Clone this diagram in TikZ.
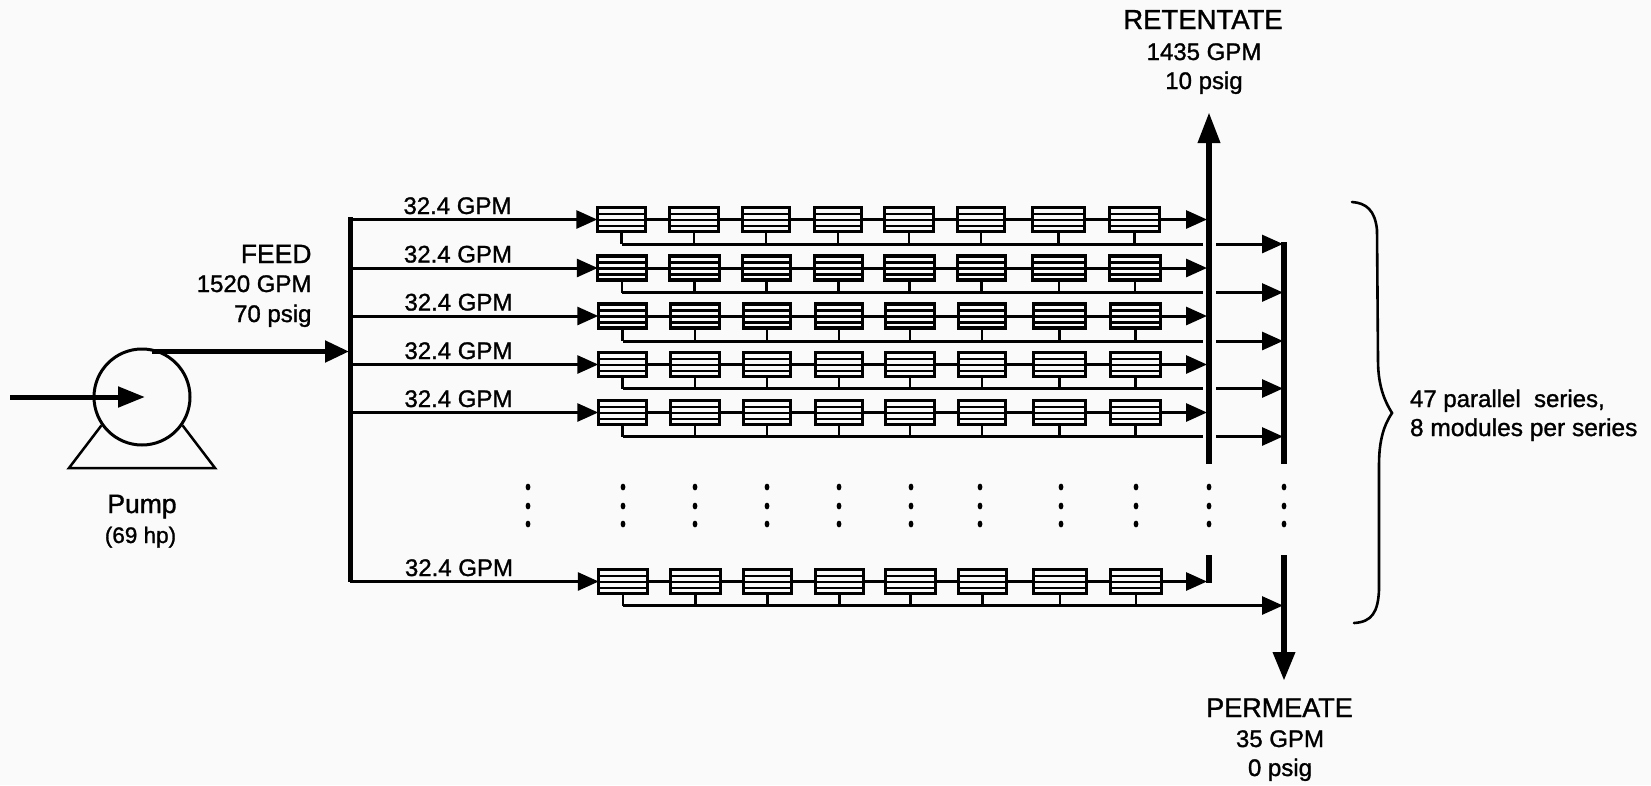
\documentclass[tikz,border=0pt]{standalone}
\usepackage{fontspec}
\setmainfont{Liberation Sans}[FakeBold=1.2]
\usetikzlibrary{arrows.meta,calc}
\definecolor{paper}{HTML}{FAFAFA}
\newcommand{\txt}[1]{\fontsize{#1}{#1}\selectfont}
\def\xlist{596/647,668/720,741/791,813/863,883/935,956/1006,1031/1086,1108/1161}
\tikzset{
  lab/.style={inner sep=0pt,outer sep=0pt,font=\txt{24},anchor=base},
  bigl/.style={lab,font=\txt{26.5}},
  flow/.style={line width=3pt,-{Triangle[length=21pt,width=18pt]}},
  plain/.style={line width=3pt},
  stub/.style={line width=2.5pt},
  bar/.style={line width=6.5pt},
  fbar/.style={line width=5pt},
  modbox/.style={draw,line width=3.2pt,inner sep=0pt,outer sep=0pt,minimum height=24pt,
    path picture={
      \foreach \f in {0.27,0.52,0.77}
        \draw[line width=2.8pt] ($(path picture bounding box.north west)!\f!(path picture bounding box.south west)$) -- ($(path picture bounding box.north east)!\f!(path picture bounding box.south east)$);
    }},
}
\begin{document}
\begin{tikzpicture}[x=1pt,y=-1pt]
\path[use as bounding box,fill=paper] (0,0) rectangle (1651,785);

% pump
\node[draw,circle,line width=3pt,minimum size=96pt,inner sep=0pt] (pump) at (142,397) {};
\coordinate (tl) at (69,468);
\coordinate (tr) at (215,468);
\draw[line width=2.5pt,line join=miter] (pump.215) -- (tl) -- (tr) -- (pump.-35);
\coordinate (inlet) at (10,397);
\coordinate (intip) at (145,397);
\draw[line width=5pt,-{Triangle[length=27pt,width=20pt]}] (inlet) -- (intip);
\coordinate (feedtop) at (350,217);
\coordinate (feedbot) at (350,582);
\coordinate (feedin) at (349,351.5);
\coordinate (outst) at (152,351.5);
\draw[line width=5pt,-{Triangle[length=24pt,width=21pt]}] (outst) -- (feedin);
\draw[fbar] (feedtop) -- (feedbot);

% retentate and permeate bars
\coordinate (rtip) at (1209,112);
\coordinate (rlow) at (1209,464);
\coordinate (rb1) at (1209,555);
\coordinate (rb2) at (1209,583);
\coordinate (ptop) at (1284,242);
\coordinate (plow) at (1284,464);
\coordinate (pb1) at (1284,555);
\coordinate (ptip) at (1284,681);
\draw[bar,-{Triangle[length=31pt,width=21pt]}] (rlow) -- (rtip);
\draw[bar] (rb1) -- (rb2);
\draw[bar] (ptop) -- (plow);
\draw[bar,-{Triangle[length=29pt,width=21pt]}] (pb1) -- (ptip);

% series
\foreach \r/\y/\s/\pp in {1/219.5/0/244,2/268/0.5/292.5,3/316/1/341,4/364.5/1/388.5,5/412.5/1/436.5,6/581.5/1.5/605.5}{
  \coordinate (fb-\r) at (350,\y);
  \coordinate (ret-\r) at (1207,\y);
  \coordinate (pin-\r) at (1283,\pp);
  \coordinate (gapa-\r) at (1203,\pp);
  \coordinate (gapb-\r) at (1216,\pp);
  \foreach \a/\b [count=\c] in \xlist {
    \node[modbox,minimum width={\b-\a-2.5}] (m-\r-\c) at ({(\a+\b)/2+\s},{\y}) {};
  }
  \draw[flow] (fb-\r) -- (m-\r-1.west);
  \foreach \c in {1,...,7}{
    \pgfmathtruncatemacro\n{\c+1}
    \draw[plain] (m-\r-\c.east) -- (m-\r-\n.west);
  }
  \draw[flow] (m-\r-8.east) -- (ret-\r);
  \foreach \c in {1,...,8}{
    \draw[stub] (m-\r-\c.south) -- (m-\r-\c.south |- gapa-\r);
  }
  \node[lab] (lbl-\r) at ({457.5+\s},{\y-5.5}) {32.4 GPM};
}
\foreach \r in {1,...,5}{
  \draw[plain] (m-\r-1.south |- gapa-\r) -- (gapa-\r);
  \draw[flow] (gapb-\r) -- (pin-\r);
}
\draw[flow] (m-6-1.south |- gapa-6) -- (pin-6);

% continuation dots
\foreach \x in {528,623,695,767,839,911,980,1061,1136,1209,1284}
  \foreach \y in {487,506,524}
    \fill (\x,\y) ellipse [x radius=2.4pt,y radius=3.4pt];

% brace
\draw[line width=2.6pt,line cap=round] (1352,202) .. controls (1366,203) and (1375,210) .. (1377,230) -- (1378,360) .. controls (1378,385) and (1384,400) .. (1392,413) .. controls (1384,425) and (1379,440) .. (1379,465) -- (1379,590) .. controls (1378,612) and (1372,622) .. (1354,623);

% labels
\node[bigl,anchor=base east] (feed1) at (311.5,263) {FEED};
\node[lab,anchor=base east] (feed2) at (311.5,292) {1520 GPM};
\node[lab,anchor=base east] (feed3) at (311.5,322) {70 psig};
\node[bigl] (pump1) at (142,513) {Pump};
\node[lab,font=\txt{22.5}] (pump2) at (140.5,543) {(69 hp)};
\node[bigl,font=\txt{27.5}] (ret1) at (1203,29) {RETENTATE};
\node[lab] (ret2) at (1204,60) {1435 GPM};
\node[lab] (ret3) at (1204,89) {10 psig};
\node[bigl,font=\txt{27}] (per1) at (1279.5,717) {PERMEATE};
\node[lab] (per2) at (1280,747) {35 GPM};
\node[lab] (per3) at (1280,776) {0 psig};
\node[lab,anchor=base west] (n1) at (1410,407) {47 parallel\ \ series,};
\node[lab,anchor=base west,font=\txt{24.5}] (n2) at (1410,436) {8 modules per series};
\end{tikzpicture}
\end{document}
